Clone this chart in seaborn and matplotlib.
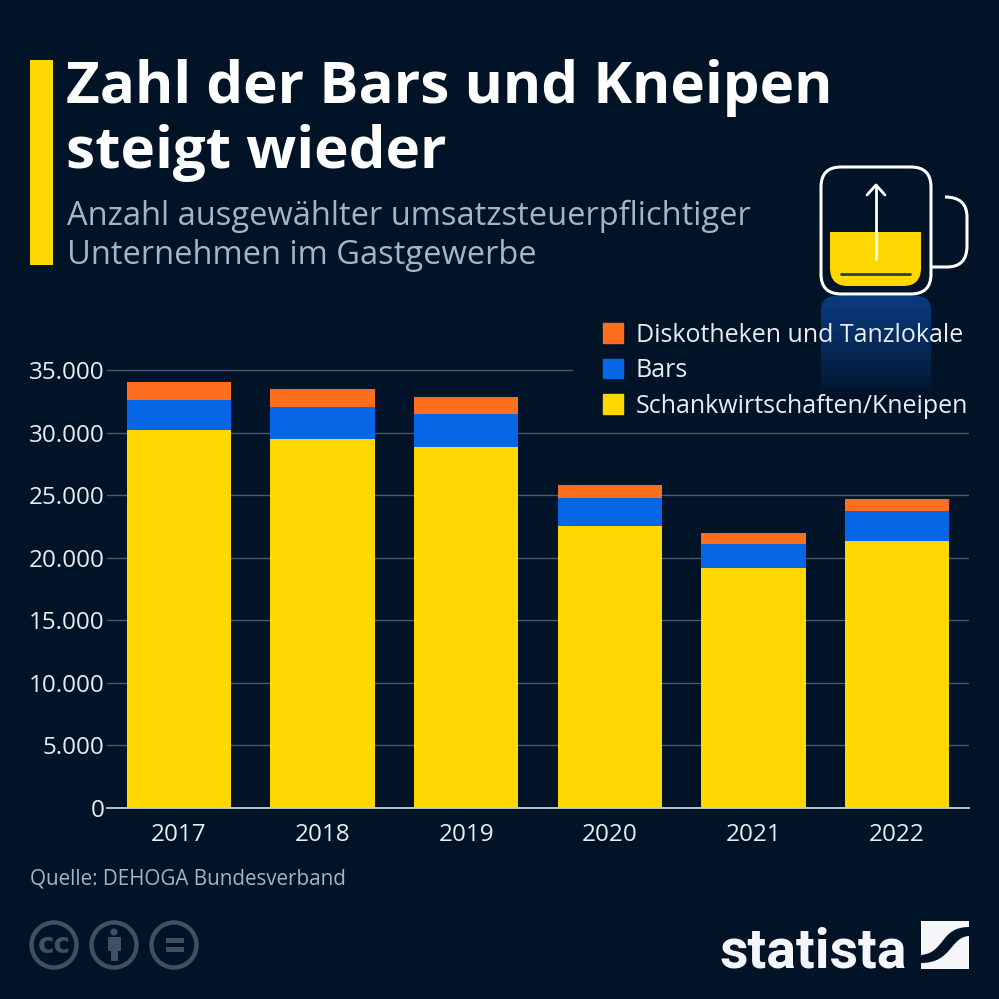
import numpy as np
import pandas as pd
import matplotlib.pyplot as plt
import seaborn as sns
from matplotlib.patches import Rectangle, FancyBboxPatch, Circle, PathPatch, Patch
from matplotlib.path import Path

years = ["2017", "2018", "2019", "2020", "2021", "2022"]
kneipen = [30200, 29500, 28850, 22530, 19180, 21340]
bars = [2400, 2540, 2630, 2240, 1920, 2360]
disko = [1440, 1440, 1360, 1040, 880, 990]
y_ticks = [0, 5000, 10000, 15000, 20000, 25000, 30000, 35000]
y_labels = ["0", "5.000", "10.000", "15.000", "20.000", "25.000", "30.000", "35.000"]

BG = "#001327"
YELLOW = "#FFD700"
BLUE = "#0666E6"
ORANGE = "#FF6D1F"
TEXT = "#E8EDF2"
MUTED = "#A3B5C6"
ICON = "#3D5166"

sns.set_theme(style="dark")
plt.rcParams["font.family"] = ["Open Sans", "DejaVu Sans"]

df = pd.DataFrame({"year": years, "kneipen": kneipen, "bars": bars, "disko": disko})
df["top_bars"] = df["kneipen"] + df["bars"]
df["top_disko"] = df["top_bars"] + df["disko"]

fig = plt.figure(figsize=(9.99, 9.99), dpi=100, facecolor=BG)

# background layer in pixel coordinates
bg = fig.add_axes([0, 0, 1, 1], zorder=0)
bg.set_xlim(0, 999)
bg.set_ylim(999, 0)
bg.axis("off")

bg.add_patch(Rectangle((30, 60), 23, 205, color=YELLOW, lw=0))
bg.text(66, 88, "Zahl der Bars und Kneipen", color="white", fontsize=42, fontweight="bold", va="center")
bg.text(66, 153, "steigt wieder", color="white", fontsize=42, fontweight="bold", va="center")
bg.text(67, 216, "Anzahl ausgewählter umsatzsteuerpflichtiger", color=MUTED, fontsize=23.5, va="center")
bg.text(67, 255, "Unternehmen im Gastgewerbe", color=MUTED, fontsize=23.5, va="center")

# fading blue block under the mug
grad = np.zeros((100, 1, 4))
grad[:, 0, :3] = [0.04, 0.23, 0.50]
grad[:, 0, 3] = np.linspace(1, 0, 100) ** 0.8
im = bg.imshow(grad, extent=(821, 931, 395, 296), aspect="auto", zorder=1)
clip = FancyBboxPatch((821, 296), 110, 140, boxstyle="round,pad=0,rounding_size=14",
                      transform=bg.transData, fc="none", ec="none")
bg.add_patch(clip)
im.set_clip_path(clip)
bg.set_xlim(0, 999)
bg.set_ylim(999, 0)

# mug
beer = Path(
    [(830, 232), (921, 232), (921, 268), (921, 286), (903, 286), (848, 286), (830, 286), (830, 268), (830, 232)],
    [Path.MOVETO, Path.LINETO, Path.LINETO, Path.CURVE3, Path.CURVE3, Path.LINETO, Path.CURVE3, Path.CURVE3, Path.CLOSEPOLY],
)
bg.add_patch(PathPatch(beer, fc=YELLOW, ec="none", zorder=2))
bg.plot([841, 910], [274, 274], color="#2C3E50", lw=2, zorder=3, solid_capstyle="round")
bg.add_patch(FancyBboxPatch((821, 167), 110, 127, boxstyle="round,pad=0,rounding_size=20",
                            fc="none", ec="white", lw=2.2, zorder=3))
handle = Path(
    [(945, 197), (967, 197), (967, 217), (967, 246), (967, 267), (947, 267), (931, 267)],
    [Path.MOVETO, Path.CURVE3, Path.CURVE3, Path.LINETO, Path.CURVE3, Path.CURVE3, Path.LINETO],
)
bg.add_patch(PathPatch(handle, fc="none", ec="white", lw=2.2, zorder=3))
bg.plot([876, 876], [259, 185], color="white", lw=2, zorder=4)
bg.plot([867, 876, 885], [195, 185, 195], color="white", lw=2, zorder=4)

# source and licence icons
bg.text(30, 879, "Quelle: DEHOGA Bundesverband", color=MUTED, fontsize=14.9, va="center")
for cx in [54, 114, 174]:
    bg.add_patch(Circle((cx, 945), 22.5, fc="none", ec=ICON, lw=3.2))
bg.text(54, 945, "cc", color=ICON, fontsize=20, fontweight="bold", ha="center", va="center",
        family=["DejaVu Sans"])
bg.add_patch(Circle((114, 932), 3.6, fc=ICON, ec="none"))
bg.add_patch(Rectangle((107.5, 937), 13, 14, fc=ICON, ec="none"))
bg.add_patch(Rectangle((110.5, 950), 7, 11, fc=ICON, ec="none"))
bg.add_patch(Rectangle((166, 938), 18, 5, fc=ICON, ec="none"))
bg.add_patch(Rectangle((166, 947), 18, 5, fc=ICON, ec="none"))

# logo
bg.text(813.5, 968, "statista", color="#F4F6F9", fontsize=40, fontweight="bold", ha="center", va="baseline",
        family=["Roboto"])
bg.add_patch(Rectangle((921, 921), 48, 48, fc="#F4F6F9", ec="none"))
band = Path(
    [(921, 955), (945, 953), (940, 927), (969, 927),
     (969, 936), (950, 937), (952, 963), (921, 963), (921, 955)],
    [Path.MOVETO, Path.CURVE4, Path.CURVE4, Path.CURVE4,
     Path.LINETO, Path.CURVE4, Path.CURVE4, Path.CURVE4, Path.CLOSEPOLY],
)
bg.add_patch(PathPatch(band, fc=BG, ec="none"))

# chart
ax = fig.add_axes([107 / 999, (999 - 808) / 999, 862 / 999, 438 / 999], zorder=2)
ax.patch.set_visible(False)

bar_kws = dict(data=df, x="year", width=0.724, saturation=1, linewidth=0, ax=ax, zorder=3)
sns.barplot(y="top_disko", color=ORANGE, **bar_kws)
sns.barplot(y="top_bars", color=BLUE, **bar_kws)
sns.barplot(y="kneipen", color=YELLOW, **bar_kws)

ax.set_xlim(-0.5, 5.5)
ax.set_ylim(0, 35000)
ax.set_yticks(y_ticks, y_labels)
ax.set_xlabel("")
ax.set_ylabel("")
ax.grid(False)
for t in y_ticks[1:-1]:
    ax.axhline(t, color="#4A5A6B", lw=1, zorder=1)
ax.axhline(y_ticks[-1], xmax=0.54, color="#4A5A6B", lw=1, zorder=1, clip_on=False)

sns.despine(ax=ax, left=True, top=True, right=True)
ax.spines["bottom"].set_color("#DDE3EA")
ax.spines["bottom"].set_linewidth(1.2)
ax.tick_params(axis="both", length=0, colors=TEXT, labelsize=17.5)
ax.tick_params(axis="x", pad=11)
ax.tick_params(axis="y", pad=2)

handles = [Patch(color=ORANGE), Patch(color=BLUE), Patch(color=YELLOW)]
labels = ["Diskotheken und Tanzlokale", "Bars", "Schankwirtschaften/Kneipen"]
ax.legend(handles, labels, frameon=False, loc="upper left",
          bbox_to_anchor=((603 - 107) / 862, 1.108), borderaxespad=0, borderpad=0,
          handlelength=0.8, handleheight=0.8, handletextpad=0.52, labelspacing=0.42,
          fontsize=18, labelcolor=TEXT)

fig.savefig("out.png", dpi=100, facecolor=BG)
